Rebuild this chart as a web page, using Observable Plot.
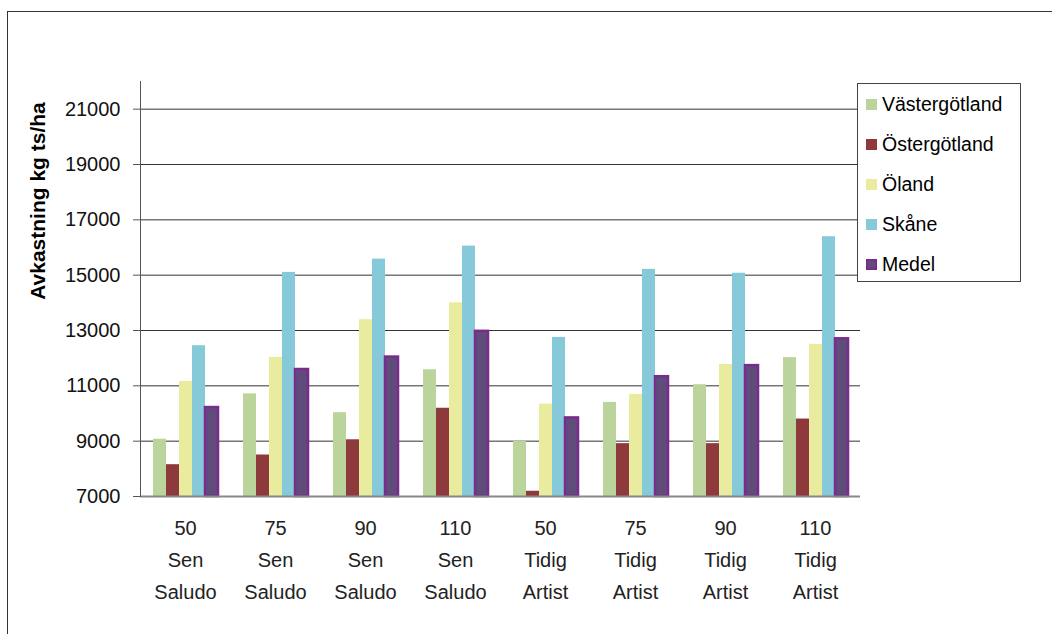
<!DOCTYPE html>
<html>
<head>
<meta charset="utf-8">
<script src="https://cdn.jsdelivr.net/npm/d3@7"></script>
<script src="https://cdn.jsdelivr.net/npm/@observablehq/plot@0.6"></script>
<style>
  body { margin: 0; background: #fff; font-family: "Liberation Sans", Arial, sans-serif; }
  #wrap { position: relative; width: 1052px; height: 634px; overflow: hidden; }
  #frame { position: absolute; left: 7px; top: 11px; right: -20px; bottom: -20px;
           border-top: 1.5px solid #333; border-left: 1.5px solid #333; }
  #chart { position: absolute; left: 0; top: 0; }
  #ylabel { position: absolute; left: 38px; top: 201px; transform: translate(-50%, -50%) rotate(-90deg);
            font-weight: bold; font-size: 21px; color: #000; white-space: nowrap; }
  #legend { position: absolute; left: 857px; top: 83px; width: 164px; height: 199px;
            border: 1.5px solid #444; box-sizing: border-box; background: #fff; padding-top: 0; }
  .item { display: flex; align-items: center; height: 40px; padding-left: 8px; font-size: 19.5px; color: #000; }
  .sw { width: 11px; height: 11px; margin-right: 5px; box-sizing: border-box; }
</style>
</head>
<body>
<div id="wrap">
  <div id="frame"></div>
  <div id="chart"></div>
  <div id="ylabel">Avkastning kg ts/ha</div>
  <div id="legend"></div>
</div>
<script>
// Category labels: amount, maturity class, variety
const amounts = ["50", "75", "90", "110", "50", "75", "90", "110"];
const maturity = ["Sen", "Sen", "Sen", "Sen", "Tidig", "Tidig", "Tidig", "Tidig"];
const variety = ["Saludo", "Saludo", "Saludo", "Saludo", "Artist", "Artist", "Artist", "Artist"];

const series = ["Västergötland", "Östergötland", "Öland", "Skåne", "Medel"];
const colors = ["#bbd49b", "#8e3a3c", "#e9eb9e", "#86c9d8", "#5f4c7b"];
const medelStroke = "#7b2b8e";

// Yield, kg ts/ha
const vastergotland = [9070, 10710, 10030, 11580, 8990, 10400, 11040, 12020];
const ostergotland = [8150, 8500, 9050, 10190, 7190, 8910, 8910, 9800];
const oland = [11160, 12030, 13390, 14000, 10340, 10690, 11770, 12500];
const skane = [12450, 15100, 15580, 16050, 12750, 15210, 15070, 16390];
const medel = [10215, 11590, 12040, 12970, 9840, 11330, 11730, 12700];

const yTicks = [7000, 9000, 11000, 13000, 15000, 17000, 19000, 21000];

const groups = amounts.map((a, i) => `${a}\n${maturity[i]}\n${variety[i]}`);
const valuesBySeries = [vastergotland, ostergotland, oland, skane, medel];

const rows = [];
groups.forEach((g, i) => {
  series.forEach((s, j) => rows.push({group: g, series: s, value: valuesBySeries[j][i]}));
});
const regionRows = rows.filter(d => d.series !== "Medel");
const medelRows = rows.filter(d => d.series === "Medel");

const chart = Plot.plot({
  width: 1052,
  height: 634,
  marginLeft: 139,
  marginRight: 192,
  marginTop: 81,
  marginBottom: 138,
  style: {fontFamily: "'Liberation Sans', Arial, sans-serif", fontSize: "20px", background: "transparent", color: "#111"},
  fx: {domain: groups, paddingInner: 0, paddingOuter: 0, label: null, axis: null},
  x: {domain: series, paddingInner: 0, paddingOuter: 0.72, axis: null},
  y: {domain: [7000, 22000], label: null, axis: null},
  color: {domain: series, range: colors},
  marks: [
    Plot.gridY(yTicks, {stroke: "#333", strokeOpacity: 1, strokeWidth: 1}),
    Plot.barY(regionRows, {fx: "group", x: "series", y1: 7000, y2: "value", fill: "series", insetLeft: 0, insetRight: 0}),
    Plot.barY(medelRows, {fx: "group", x: "series", y1: 7000, y2: "value", fill: "series", stroke: medelStroke, strokeWidth: 2.5, insetLeft: 0, insetRight: 0}),
    Plot.ruleY([7000], {stroke: "#888", strokeWidth: 2}),
    Plot.frame({anchor: "left", facetAnchor: "left", stroke: "#555"}),
    Plot.axisY(yTicks, {tickSize: 7, tickPadding: 13, tickFormat: d => String(d), label: null, stroke: "#555", fill: "#111"}),
    Plot.axisFx({anchor: "bottom", tickSize: 0, tickPadding: 16, label: null, lineHeight: 1.6, fill: "#222"})
  ]
});
document.getElementById("chart").appendChild(chart);

// Legend
const legend = document.getElementById("legend");
series.forEach((s, j) => {
  const item = document.createElement("div");
  item.className = "item";
  const sw = document.createElement("span");
  sw.className = "sw";
  sw.style.background = colors[j];
  if (s === "Medel") sw.style.border = `2px solid ${medelStroke}`;
  item.appendChild(sw);
  item.appendChild(document.createTextNode(s));
  legend.appendChild(item);
});
</script>
</body>
</html>
